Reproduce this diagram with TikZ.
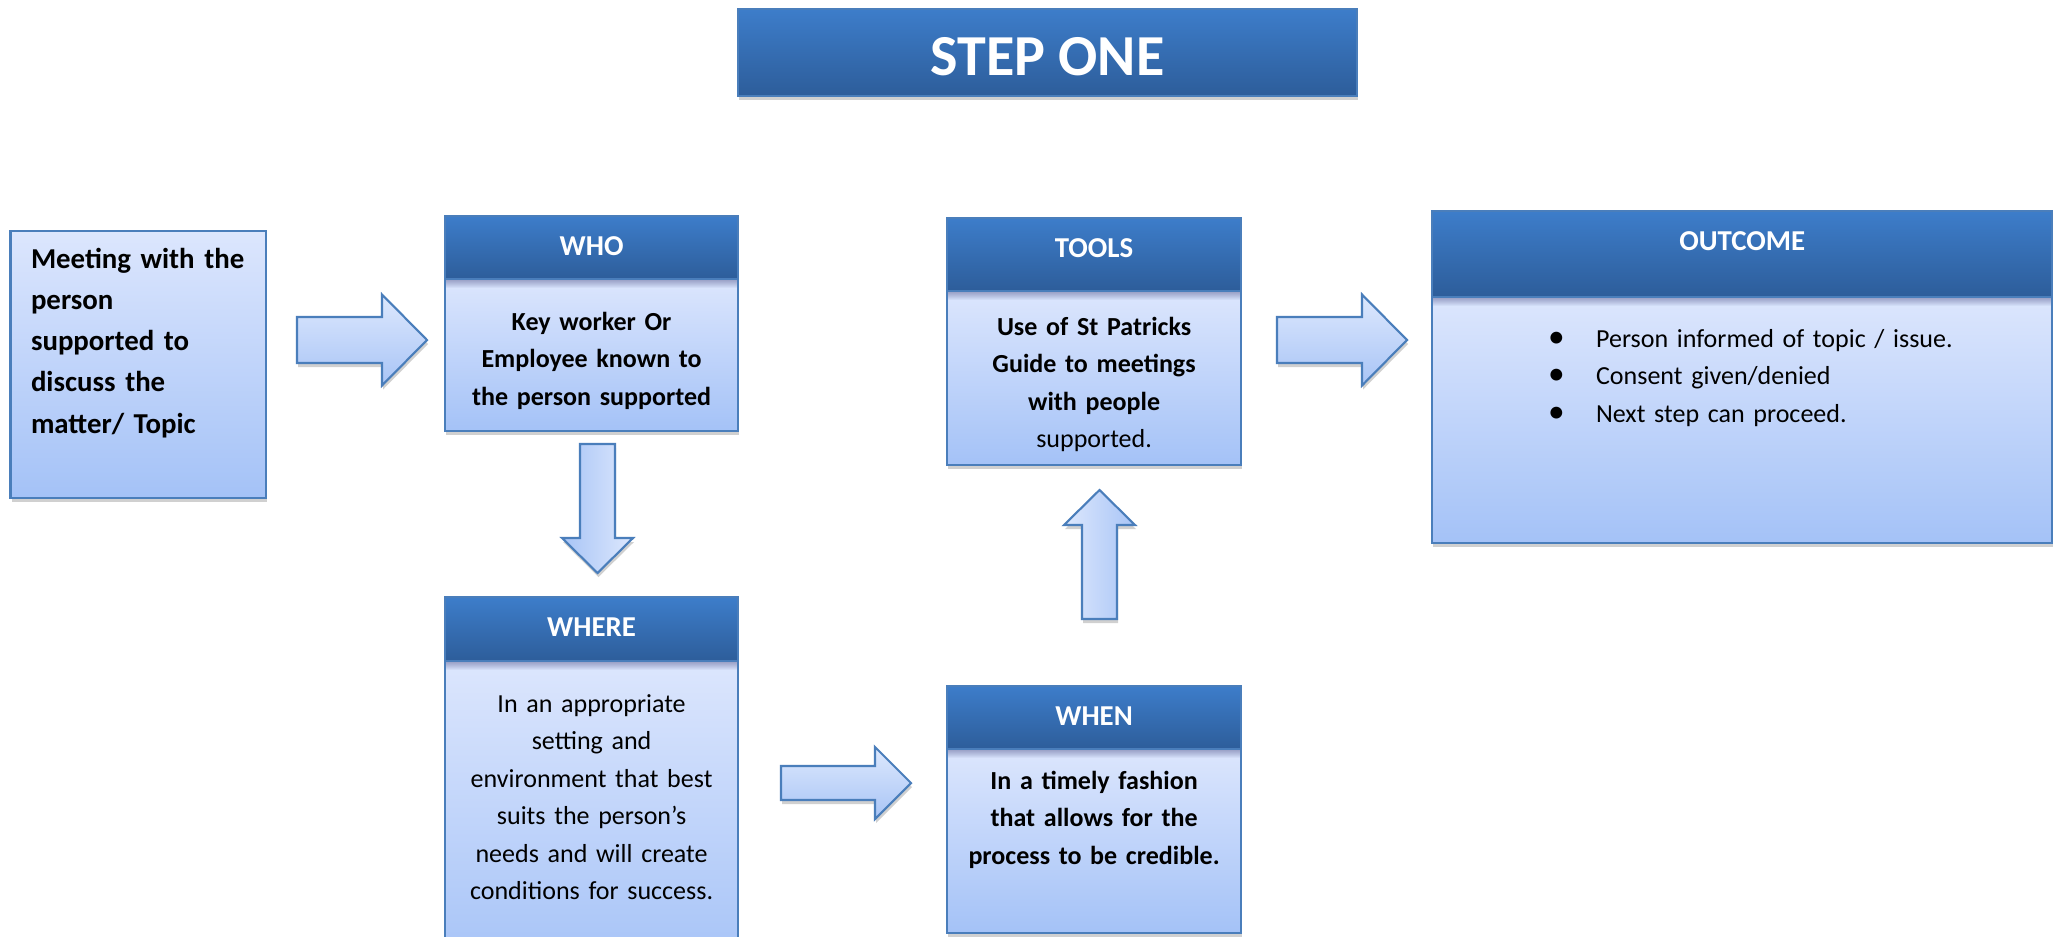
\documentclass[tikz,border=0pt]{standalone}
\usepackage{fontspec}
\setmainfont{Carlito}
\usetikzlibrary{positioning,calc,shadows}

\definecolor{headtop}{RGB}{61,125,202}
\definecolor{headbot}{RGB}{45,93,154}
\definecolor{bodytop}{RGB}{220,230,253}
\definecolor{bodybot}{RGB}{164,194,247}
\definecolor{edge}{RGB}{74,126,187}
\definecolor{arrowtop}{RGB}{221,232,253}
\definecolor{arrowbot}{RGB}{168,196,246}

\newcommand{\bpoint}{\hspace*{0.31cm}\makebox[0.48cm][l]{\fontsize{9.5}{9.5}\selectfont\textbullet}}
% right pointing block arrow: tail, shaft half, head half, head length
\newcommand{\harrow}[4]{%
  \filldraw[blockarrow,top color=arrowtop,bottom color=arrowbot]
    ($(#1)+(0,-#2)$) -- ++(130-#4,0) -- ++(0,#2-#3) -- ($(#1)+(130,0)$)
    -- ($(#1)+(130-#4,#3)$) -- ++(0,#2-#3) -- ($(#1)+(0,#2)$) -- cycle;}
% vertical block arrow: tail, 1 down / -1 up, shaft half, head half, head length, shading
\newcommand{\varrow}[6]{%
  \filldraw[blockarrow,#6]
    ($(#1)+(-#3,0)$) -- ++(0,{#2*(129-#5)}) -- ++(#3-#4,0) -- ($(#1)+(0,{#2*129})$)
    -- ($(#1)+(#4,{#2*(129-#5)})$) -- ++(#3-#4,0) -- ($(#1)+(#3,0)$) -- cycle;}

\begin{document}
\begin{tikzpicture}[x=0.01cm,y=-0.01cm,
  softshadow/.style={drop shadow={shadow xshift=0.01cm,shadow yshift=-0.04cm,opacity=0.3,fill=black!60}},
  titlebox/.style={anchor=north west,inner sep=0pt,outer sep=0pt,draw=edge,line width=0.6pt,
    top color=headtop,bottom color=headbot,text=white,softshadow,
    font=\fontsize{16.5}{19}\selectfont\bfseries},
  headbox/.style={anchor=north west,inner sep=0pt,outer sep=0pt,draw=edge,line width=0.6pt,
    top color=headtop,bottom color=headbot,text=white,
    font=\fontsize{8.2}{10}\selectfont\bfseries,text height=0.39cm},
  bodybox/.style={inner xsep=0.1cm,inner ysep=0pt,outer sep=0pt,draw=edge,line width=0.6pt,
    top color=bodytop,bottom color=bodybot,align=center,softshadow,
    font=\fontsize{7.4}{10.67}\selectfont},
  undercap/.style={path picture={\foreach \i in {1,...,9}
    \fill[black!70!blue,opacity=0.04] (path picture bounding box.north west)
      rectangle ([yshift=-\i*0.01cm]path picture bounding box.north east);}},
  blockarrow/.style={draw=edge,line width=0.6pt,line join=miter,softshadow}]
\useasboundingbox (0,0) rectangle (2058,936);
\clip (0,0) rectangle (2058,936);
\fill[white] (0,0) rectangle (2058,936);

\node[titlebox,minimum width=6.19cm,text height=0.66cm,text depth=0.21cm] (title) at (738,9) {STEP ONE};

\node[bodybox,anchor=north west,align=left,text width=2.145cm,inner xsep=0.205cm,
  text height=0.37cm,text depth=2.30cm,font=\fontsize{8.2}{11.75}\selectfont\bfseries]
  (meet) at (10.5,231) {\mbox{Meeting with the}\\person\\supported to\\discuss the\\matter/ Topic};

\node[headbox,text depth=0.24cm,minimum width=2.93cm] (whohead) at (445,216) {WHO};
\node[bodybox,undercap,below=0cm of whohead,text width=2.73cm,text height=0.51cm,text depth=1.01cm]
  (whobody) {\bfseries Key worker Or\\Employee known to\\the person supported};

\node[headbox,text depth=0.25cm,minimum width=2.93cm] (wherehead) at (445,597) {WHERE};
\node[bodybox,undercap,below=0cm of wherehead,text width=2.73cm,text height=0.51cm,text depth=2.68cm]
  (wherebody) {In an appropriate\\setting and\\environment that best\\suits the person’s\\needs and will create\\conditions for success.};

\node[headbox,text depth=0.34cm,minimum width=2.94cm] (toolshead) at (947,218) {TOOLS};
\node[bodybox,undercap,below=0cm of toolshead,text width=2.74cm,text height=0.44cm,text depth=1.30cm]
  (toolsbody) {\bfseries Use of St Patricks\\Guide to meetings\\with people\\\mdseries supported.};

\node[headbox,text depth=0.24cm,minimum width=2.94cm] (whenhead) at (947,686) {WHEN};
\node[bodybox,undercap,below=0cm of whenhead,text width=2.74cm,text height=0.40cm,text depth=1.44cm]
  (whenbody) {\bfseries In a timely fashion\\that allows for the\\process to be credible.};

\node[headbox,text depth=0.47cm,minimum width=6.20cm] (outhead) at (1432,211) {OUTCOME};
\node[bodybox,undercap,below=0cm of outhead,align=left,text width=4.5cm,inner xsep=0.85cm,
  text height=0.50cm,text depth=1.96cm]
  (outbody) {\bpoint Person informed of topic / issue.\\\bpoint Consent given/denied\\\bpoint Next step can proceed.};

% block arrows
\coordinate (a1) at (297,340);
\coordinate (a2) at (781,783);
\coordinate (a3) at (1277,340);
\coordinate (d1) at (597.5,444);
\coordinate (u1) at (1099.5,619);
\harrow{a1}{23}{45.5}{45}
\harrow{a3}{23}{45.5}{45}
\harrow{a2}{17}{36}{36}
\varrow{d1}{1}{17.5}{35.5}{35}{left color=arrowbot,right color=arrowtop}
\varrow{u1}{-1}{17.5}{35.5}{35}{left color=arrowtop,right color=arrowbot}
\end{tikzpicture}
\end{document}
